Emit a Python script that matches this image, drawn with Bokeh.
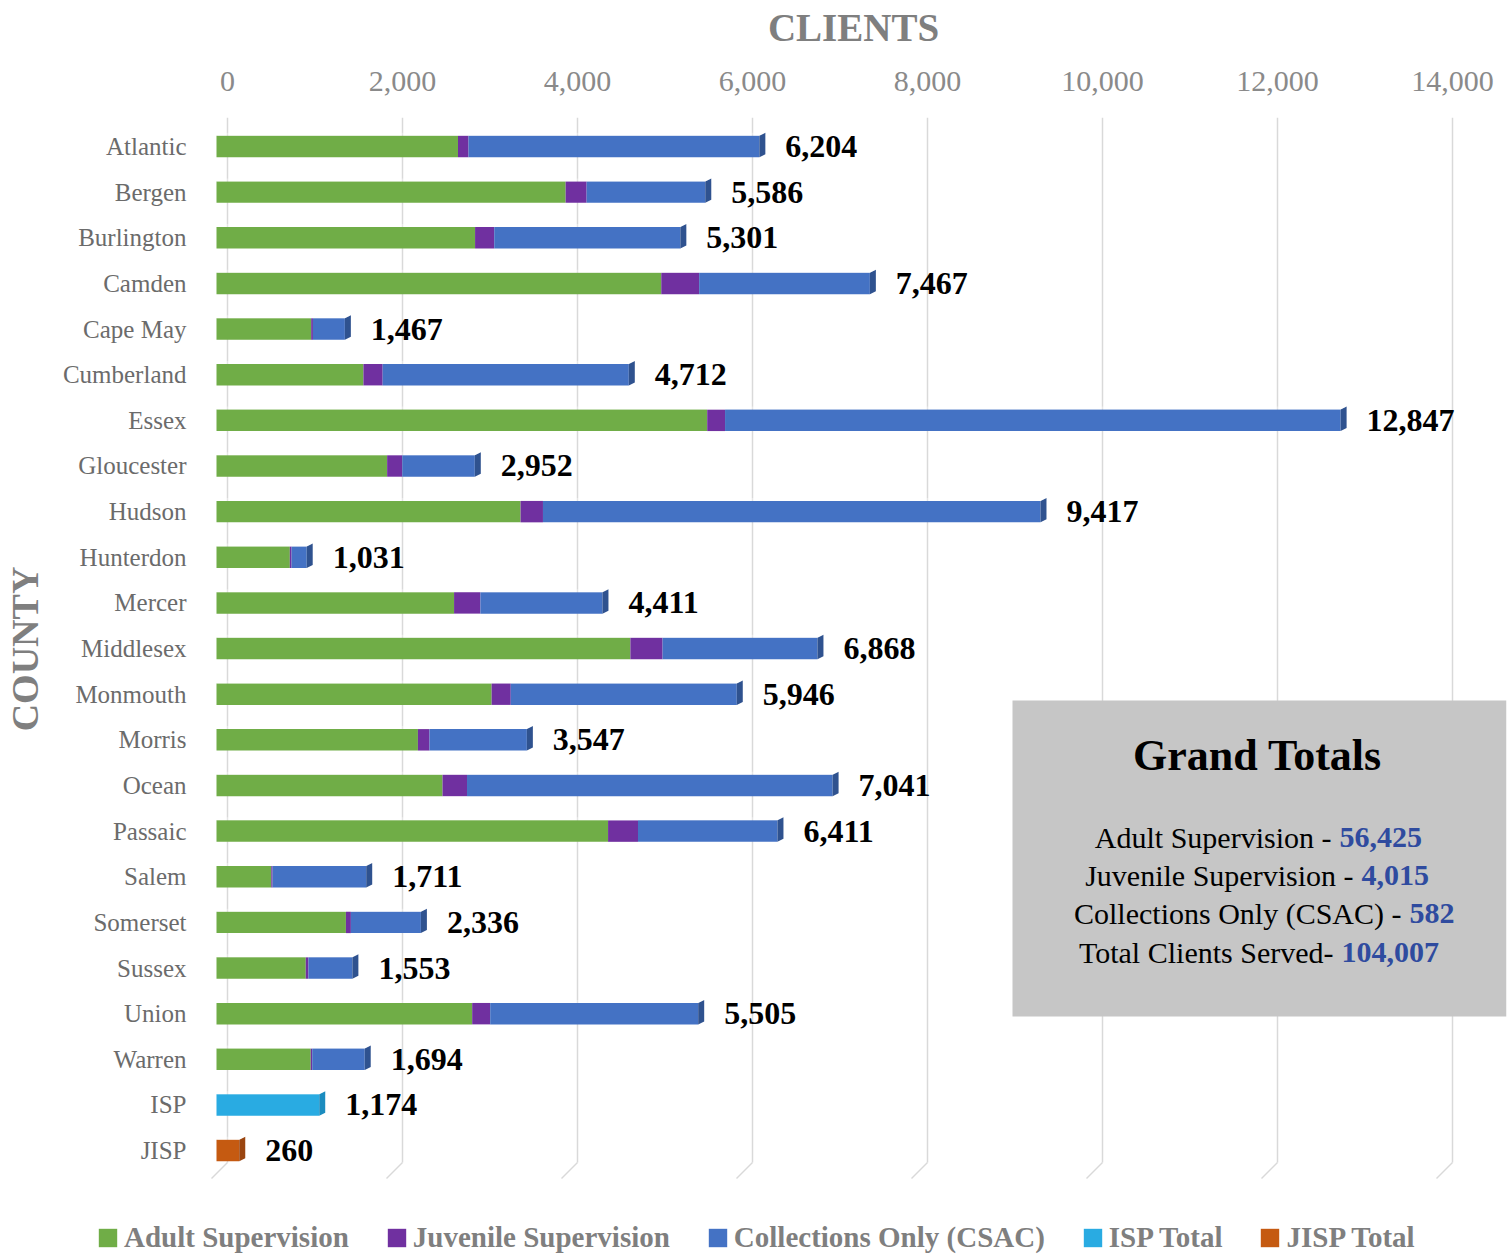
from bokeh.plotting import figure
from bokeh.models import (Range1d, LinearAxis, FixedTicker, NumeralTickFormatter,
                          ColumnDataSource, Legend, LegendItem, BoxAnnotation, Label)
from bokeh.core.properties import value
from bokeh.embed import file_html
from bokeh.resources import INLINE

# ---------------- data ----------------
counties = ["Atlantic", "Bergen", "Burlington", "Camden", "Cape May", "Cumberland",
            "Essex", "Gloucester", "Hudson", "Hunterdon", "Mercer", "Middlesex",
            "Monmouth", "Morris", "Ocean", "Passaic", "Salem", "Somerset", "Sussex",
            "Union", "Warren"]
adult = [2760, 3990, 2955, 5083, 1082, 1679, 5608, 1950, 3475, 838, 2715, 4730,
         3144, 2302, 2583, 4475, 626, 1479, 1020, 2922, 1077]
juvenile = [120, 240, 219, 433, 20, 220, 204, 173, 256, 20, 301, 368,
            219, 132, 280, 342, 15, 57, 31, 206, 17]
csac = [3324, 1356, 2127, 1951, 365, 2813, 7035, 829, 5686, 173, 1395, 1770,
        2583, 1113, 4178, 1594, 1070, 800, 502, 2377, 600]
isp_label = "ISP"
isp_total = 1174
jisp_label = "JISP"
jisp_total = 260
x_ticks = [0, 2000, 4000, 6000, 8000, 10000, 12000, 14000]
grand_title = "Grand Totals"
grand_labels = ["Adult Supervision -", "Juvenile Supervision -",
                "Collections Only (CSAC) -", "Total Clients Served-"]
grand_values = ["56,425", "4,015", "582", "104,007"]
series_names = ["Adult Supervision", "Juvenile Supervision", "Collections Only (CSAC)",
                "ISP Total", "JISP Total"]

# ---------------- style ----------------
FONT = "Liberation Serif"
GREEN, PURPLE, BLUE, CYAN, ORANGE = "#70ad47", "#7030a0", "#4472c4", "#29abe2", "#c55a11"
BLUE_CAP, CYAN_CAP, ORANGE_CAP = "#2f528f", "#1b8cbf", "#9a4510"
SERIES_COLORS = [GREEN, PURPLE, BLUE, CYAN, ORANGE]
GREY = "#7f7f7f"

# image-pixel geometry helpers (positions only)
PX0, PXU = 216.0, 0.0875          # image x of value 0 (front face), px per unit
ROW0, ROWPX = 146.0, 45.64        # image y of first row, px per row
FL, FR, FT, FB = 200, 1506, 117, 1180   # frame edges in image px
W, H = 1510, 1254
def vx(px):
    return (px - PX0) / PXU
def vy(py):
    return (py - ROW0) / ROWPX
BACK = 11.0 / PXU                 # depth offset of back wall in units
BAR_H = 0.47
CAP_DX = 6.0 / PXU
CAP_DY = 3.0 / ROWPX

n = len(counties)
rows = list(range(n))
isp_row, jisp_row = n, n + 1
all_labels = counties + [isp_label, jisp_label]

p = figure(width=W, height=FB, output_backend="svg", toolbar_location=None,
           x_axis_location=None, y_axis_location=None,
           x_range=Range1d(vx(FL), vx(FR)), y_range=Range1d(vy(FB), vy(FT)),
           min_border_left=FL, min_border_right=W - FR, min_border_top=FT,
           min_border_bottom=0, outline_line_color=None,
           background_fill_color="white", border_fill_color="white")
p.extra_x_ranges = {"back": Range1d(vx(FL) - BACK, vx(FR) - BACK)}
p.grid.visible = False

# gridlines on the back wall + floor slants
floor_back, floor_front = vy(1162), vy(1178)
p.segment(x0=x_ticks, x1=x_ticks, y0=[vy(FT)] * len(x_ticks), y1=[floor_back] * len(x_ticks),
          x_range_name="back", line_color="#d9d9d9", line_width=1.5)
p.segment(x0=[t + BACK for t in x_ticks], y0=[floor_back] * len(x_ticks),
          x1=[t - 5.0 / PXU for t in x_ticks], y1=[floor_front] * len(x_ticks),
          line_color="#d9d9d9", line_width=1.5)

# stacked bars
a_end = adult
j_end = [a + j for a, j in zip(adult, juvenile)]
totals = [a + j + c for a, j, c in zip(adult, juvenile, csac)]
src = ColumnDataSource(dict(y=rows, zero=[0] * n, a=a_end, j=j_end, t=totals))
p.hbar(y="y", left="zero", right="a", height=BAR_H, source=src,
       fill_color=GREEN, line_color=None)
p.hbar(y="y", left="a", right="j", height=BAR_H, source=src,
       fill_color=PURPLE, line_color=None)
p.hbar(y="y", left="j", right="t", height=BAR_H, source=src,
       fill_color=BLUE, line_color=None)
p.hbar(y=[isp_row], left=[0], right=[isp_total], height=BAR_H,
       fill_color=CYAN, line_color=None)
p.hbar(y=[jisp_row], left=[0], right=[jisp_total], height=BAR_H,
       fill_color=ORANGE, line_color=None)

# 3D end caps
all_totals = totals + [isp_total, jisp_total]
all_rows = rows + [isp_row, jisp_row]
cap_colors = [BLUE_CAP] * n + [CYAN_CAP, ORANGE_CAP]
xs, ys = [], []
for t, r in zip(all_totals, all_rows):
    yb, yt = r + BAR_H / 2, r - BAR_H / 2
    xs.append([t, t + CAP_DX, t + CAP_DX, t])
    ys.append([yb, yb - CAP_DY, yt - CAP_DY, yt])
p.patches(xs=xs, ys=ys, fill_color=cap_colors, line_color=None)
# top faces (subtle)
txs, tys = [], []
for t, r in zip(all_totals, all_rows):
    yt = r - BAR_H / 2
    txs.append([0, CAP_DX, t + CAP_DX, t])
    tys.append([yt, yt - CAP_DY, yt - CAP_DY, yt])
p.patches(xs=txs, ys=tys, fill_color="white", fill_alpha=0.35, line_color=None)

# value labels
p.text(x=all_totals, y=all_rows, text=[f"{t:,}" for t in all_totals],
       x_offset=26, text_baseline="middle", text_align="left",
       text_font=value(FONT), text_font_size="32px", text_font_style="bold",
       text_color="black")

# axes
xaxis = LinearAxis(x_range_name="back", ticker=FixedTicker(ticks=x_ticks),
                   formatter=NumeralTickFormatter(format="0,0"))
xaxis.axis_label = "CLIENTS"
xaxis.axis_label_text_font = FONT
xaxis.axis_label_text_font_size = "39px"
xaxis.axis_label_text_font_style = "bold"
xaxis.axis_label_text_color = GREY
xaxis.axis_label_standoff = 20
xaxis.major_label_text_font = FONT
xaxis.major_label_text_font_size = "30px"
xaxis.major_label_text_color = "#8a8a8a"
xaxis.major_label_standoff = 21
xaxis.axis_line_color = None
xaxis.major_tick_line_color = None
xaxis.minor_tick_line_color = None
p.add_layout(xaxis, "above")

yaxis = LinearAxis(ticker=FixedTicker(ticks=all_rows),
                   major_label_overrides={r: lab for r, lab in zip(all_rows, all_labels)})
yaxis.axis_label = "COUNTY"
yaxis.axis_label_text_font = FONT
yaxis.axis_label_text_font_size = "38px"
yaxis.axis_label_text_font_style = "bold"
yaxis.axis_label_text_color = GREY
yaxis.axis_label_standoff = 14
yaxis.major_label_text_font = FONT
yaxis.major_label_text_font_size = "25px"
yaxis.major_label_text_color = "#6b6b6b"
yaxis.major_label_standoff = 8
yaxis.axis_line_color = None
yaxis.major_tick_line_color = None
yaxis.minor_tick_line_color = None
p.add_layout(yaxis, "left")

# Grand totals box
p.add_layout(BoxAnnotation(left=vx(1012), right=vx(FR), top=vy(700), bottom=vy(1016),
                           fill_color="#c6c6c6", fill_alpha=1.0, line_color=None))
p.add_layout(Label(x=vx(1257), y=vy(755), text=grand_title, text_align="center",
                   text_baseline="middle", text_font=FONT, text_font_size="44px",
                   text_font_style="bold", text_color="black"))
line_y = [837, 875, 913, 952]
split_x = [1339, 1361, 1409, 1341]
for lab, val, ly, sx in zip(grand_labels, grand_values, line_y, split_x):
    p.add_layout(Label(x=vx(sx - 8), y=vy(ly), text=lab, text_align="right",
                       text_baseline="middle", text_font=FONT, text_font_size="30px",
                       text_color="black"))
    p.add_layout(Label(x=vx(sx), y=vy(ly), text=val, text_align="left",
                       text_baseline="middle", text_font=FONT, text_font_size="30px",
                       text_font_style="bold", text_color="#2f4b9f"))

# legend strip below the chart (separate root so its frame is not aligned)
lf = figure(width=W, height=H - FB, output_backend="svg", toolbar_location=None,
            x_axis_location=None, y_axis_location=None,
            x_range=Range1d(0, 1), y_range=Range1d(0, 1), min_border=0,
            outline_line_color=None, background_fill_color="white",
            border_fill_color="white")
lf.grid.visible = False
items = []
for nm, col in zip(series_names, SERIES_COLORS):
    # legend proxy glyph kept outside the visible range
    r = lf.hbar(y=[-10], left=[0], right=[1], height=0.5, fill_color=col, line_color=None)
    items.append(LegendItem(label=nm, renderers=[r]))
legend = Legend(items=items, orientation="horizontal", location=(96, 0),
                glyph_width=23, glyph_height=23, label_height=23, label_standoff=5,
                spacing=36, padding=0, margin=0, border_line_color=None,
                background_fill_alpha=0, label_text_font=FONT, label_text_font_size="29px",
                label_text_font_style="bold", label_text_color=GREY)
lf.add_layout(legend, "center")

open("out.html", "w").write(file_html([p, lf], INLINE))
